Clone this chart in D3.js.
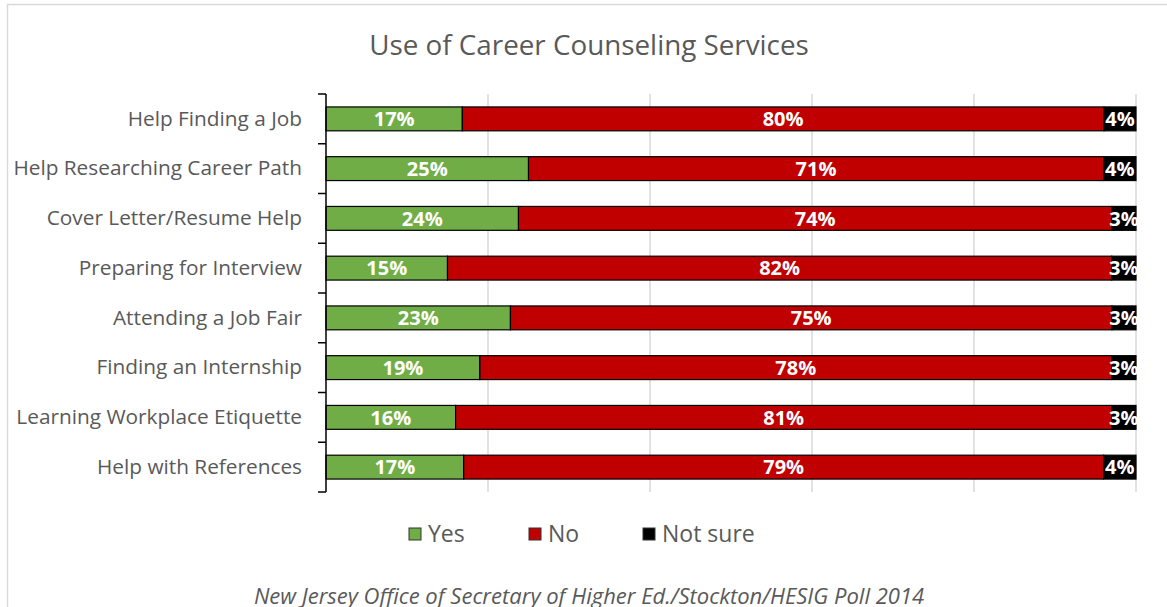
<!DOCTYPE html>
<html>
<head>
<meta charset="utf-8">
<script src="https://cdn.jsdelivr.net/npm/d3@7"></script>
<style>
  html, body { margin: 0; padding: 0; background: #fff; }
  svg { display: block; font-family: "Open Sans", "Liberation Sans", sans-serif; }
</style>
</head>
<body>
<svg id="chart" width="1167" height="607"></svg>
<script>
// Survey items, top to bottom
const categories = [
  "Help Finding a Job",
  "Help Researching Career Path",
  "Cover Letter/Resume Help",
  "Preparing for Interview",
  "Attending a Job Fair",
  "Finding an Internship",
  "Learning Workplace Etiquette",
  "Help with References"
];
const seriesNames = ["Yes", "No", "Not sure"];
const yesValues     = [17, 25, 24, 15, 23, 19, 16, 17];
const noValues      = [80, 71, 74, 82, 75, 78, 81, 79];
const notSureValues = [4, 4, 3, 3, 3, 3, 3, 4];
const xTicks = [0, 0.2, 0.4, 0.6, 0.8, 1];

const colors = { "Yes": "#70AD47", "No": "#C00000", "Not sure": "#000000" };

const svg = d3.select("#chart");
const W = 1167, H = 607;
const margin = { left: 326, right: 31, top: 94, bottom: 115 };

// Outer chart frame
svg.append("rect")
  .attr("x", 7.5).attr("y", 4.5)
  .attr("width", W + 20).attr("height", H + 20)
  .attr("fill", "#fff").attr("stroke", "#d9d9d9").attr("stroke-width", 1.5);

// Rows as 100% stacks
const rows = categories.map((c, i) => ({
  category: c, "Yes": yesValues[i], "No": noValues[i], "Not sure": notSureValues[i]
}));
const stacked = d3.stack().keys(seriesNames).offset(d3.stackOffsetExpand)(rows);

const x = d3.scaleLinear().domain([0, 1]).range([margin.left, W - margin.right]);
const y = d3.scaleBand().domain(categories)
  .range([margin.top, H - margin.bottom]).paddingInner(0.52).paddingOuter(0.26);

// Vertical gridlines
svg.append("g").selectAll("line").data(xTicks.slice(1)).join("line")
  .attr("x1", d => x(d)).attr("x2", d => x(d))
  .attr("y1", margin.top).attr("y2", H - margin.bottom)
  .attr("stroke", "#d9d9d9").attr("stroke-width", 1.5);

// Bars
const layers = svg.append("g").selectAll("g").data(stacked).join("g")
  .attr("fill", d => colors[d.key]);
layers.selectAll("rect").data(d => d).join("rect")
  .attr("x", d => x(d[0]))
  .attr("y", d => y(d.data.category))
  .attr("width", d => x(d[1]) - x(d[0]))
  .attr("height", y.bandwidth())
  .attr("stroke", "#000").attr("stroke-width", 1.2);

// Value labels
stacked.forEach(layer => {
  svg.append("g").selectAll("text").data(layer).join("text")
    .attr("x", d => (x(d[0]) + x(d[1])) / 2)
    .attr("y", d => y(d.data.category) + y.bandwidth() / 2)
    .attr("dy", "0.36em")
    .attr("text-anchor", "middle")
    .attr("fill", "#fff")
    .attr("font-size", 20).attr("font-weight", "bold")
    .text(d => d.data[layer.key] + "%");
});

// Category axis
const yAxis = svg.append("g")
  .attr("transform", `translate(${margin.left},0)`)
  .call(d3.axisLeft(y).tickSize(0).tickPadding(24));
yAxis.select(".domain").attr("stroke", "#000").attr("stroke-width", 1.5)
  .attr("d", `M0,${margin.top}V${H - margin.bottom}`);
yAxis.selectAll("text").attr("font-size", 20.8).attr("fill", "#595959")
  .attr("font-family", "'Open Sans', sans-serif");
// Tick marks on band boundaries
const bounds = categories.map(c => y(c) - y.step() * y.paddingInner() / 2);
bounds.push(H - margin.bottom);
yAxis.selectAll(".bound").data(bounds).join("line").attr("class", "bound")
  .attr("x1", -8).attr("x2", 0)
  .attr("y1", d => d).attr("y2", d => d)
  .attr("stroke", "#000").attr("stroke-width", 1.5);

// Title
svg.append("text")
  .attr("x", 589).attr("y", 55).attr("text-anchor", "middle")
  .attr("font-size", 27.8).attr("fill", "#595959")
  .text("Use of Career Counseling Services");

// Legend
const legendX = [409, 529, 643];
const legend = svg.append("g").selectAll("g").data(seriesNames).join("g")
  .attr("transform", (d, i) => `translate(${legendX[i]},528)`);
legend.append("rect").attr("width", 12).attr("height", 12)
  .attr("fill", d => colors[d]).attr("stroke", "#333").attr("stroke-width", 1);
legend.append("text").attr("x", 19).attr("y", 6).attr("dy", "0.36em")
  .attr("font-size", 23).attr("fill", "#595959").text(d => d);

// Source note
svg.append("text")
  .attr("x", 589).attr("y", 604).attr("text-anchor", "middle")
  .attr("font-size", 22).attr("font-style", "italic").attr("fill", "#595959")
  .text("New Jersey Office of Secretary of Higher Ed./Stockton/HESIG Poll 2014");
</script>
</body>
</html>
